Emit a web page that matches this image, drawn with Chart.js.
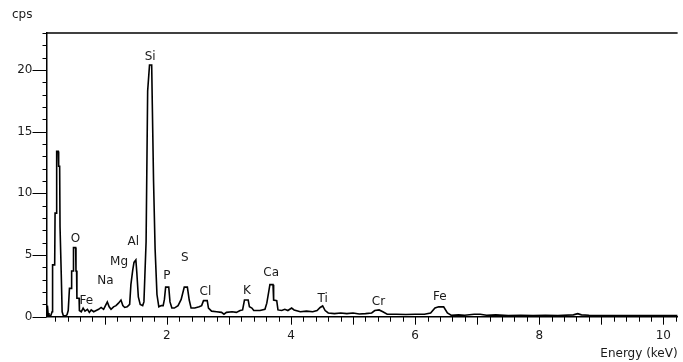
<!DOCTYPE html>
<html lang="en">

<head>
    <meta charset="UTF-8">
    <title>EDS spectrum</title>
    <script src="https://cdn.jsdelivr.net/npm/chart.js"></script>
    <style>
        body {
            margin: 0;
            background-color: #FFFFFF;
        }

        .chart-box {
            width: 683px;
            height: 362px;
        }
    </style>
</head>

<body>
    <div class="chart-box">
        <canvas id="spectrumChart"></canvas>
    </div>

    <script>
        // Spectrum: energy (keV) and counts (cps)
        const energy = [
            0.06, 0.07, 0.075, 0.085, 0.10, 0.13, 0.15, 0.158, 0.192, 0.198,
            0.218, 0.224, 0.250, 0.256, 0.272, 0.278, 0.292, 0.298, 0.305, 0.312,
            0.33, 0.36, 0.39, 0.41, 0.43, 0.46, 0.465, 0.49, 0.495, 0.53,
            0.535, 0.545, 0.55, 0.585, 0.59, 0.62, 0.65, 0.68, 0.72, 0.75,
            0.78, 0.82, 0.86, 0.90, 0.94, 0.98, 1.01, 1.04, 1.07, 1.10,
            1.14, 1.18, 1.22, 1.26, 1.29, 1.32, 1.36, 1.40, 1.42, 1.45,
            1.47, 1.50, 1.515, 1.54, 1.57, 1.61, 1.63, 1.645, 1.665, 1.69,
            1.72, 1.755, 1.765, 1.785, 1.81, 1.84, 1.87, 1.91, 1.94, 1.96,
            1.98, 2.03, 2.05, 2.08, 2.12, 2.18, 2.23, 2.28, 2.33, 2.36,
            2.39, 2.45, 2.52, 2.56, 2.59, 2.65, 2.67, 2.72, 2.80, 2.88,
            2.92, 2.96, 3.05, 3.12, 3.18, 3.22, 3.25, 3.31, 3.33, 3.37,
            3.40, 3.50, 3.58, 3.61, 3.64, 3.66, 3.71, 3.72, 3.77, 3.79,
            3.85, 3.90, 3.95, 4.01, 4.05, 4.15, 4.25, 4.35, 4.42, 4.47,
            4.51, 4.55, 4.60, 4.70, 4.80, 4.90, 5.00, 5.10, 5.20, 5.30,
            5.35, 5.42, 5.48, 5.55, 5.70, 5.85, 6.00, 6.15, 6.25, 6.32,
            6.38, 6.46, 6.52, 6.58, 6.70, 6.80, 6.95, 7.05, 7.15, 7.30,
            7.50, 7.70, 7.90, 8.10, 8.30, 8.55, 8.62, 8.68, 8.80, 9.00,
            9.30, 9.60, 9.90, 10.23
        ];
        const cps = [
            0.1, 0.1, 0.9, 0.3, 0.1, 0.1, 0.4, 4.2, 4.2, 8.4,
            8.4, 13.4, 13.4, 12.2, 12.2, 7.3, 7.3, 3.4, 3.4, 0.4,
            0.1, 0.05, 0.15, 0.5, 2.3, 2.3, 3.7, 3.7, 5.6, 5.6,
            3.7, 3.7, 1.5, 1.5, 0.5, 0.4, 0.7, 0.45, 0.6, 0.35,
            0.55, 0.4, 0.5, 0.6, 0.75, 0.6, 0.9, 1.2, 0.8, 0.6,
            0.8, 0.9, 1.1, 1.35, 0.9, 0.75, 0.8, 1.0, 2.6, 3.8,
            4.4, 4.6, 3.6, 1.6, 1.0, 0.9, 1.2, 3.3, 6.1, 18.3,
            20.4, 20.4, 17.2, 11.0, 5.5, 1.8, 0.8, 0.9, 0.9, 1.4,
            2.4, 2.4, 1.2, 0.7, 0.7, 0.9, 1.4, 2.4, 2.4, 1.35,
            0.7, 0.7, 0.8, 0.9, 1.3, 1.3, 0.7, 0.45, 0.4, 0.35,
            0.2, 0.35, 0.4, 0.35, 0.5, 0.55, 1.35, 1.35, 0.8, 0.7,
            0.5, 0.5, 0.6, 1.1, 2.0, 2.6, 2.6, 1.35, 1.3, 0.55,
            0.5, 0.6, 0.5, 0.7, 0.55, 0.4, 0.45, 0.4, 0.5, 0.75,
            0.87, 0.5, 0.3, 0.25, 0.3, 0.25, 0.3, 0.22, 0.25, 0.3,
            0.5, 0.55, 0.4, 0.2, 0.2, 0.18, 0.2, 0.2, 0.3, 0.7,
            0.8, 0.8, 0.3, 0.12, 0.15, 0.12, 0.2, 0.2, 0.12, 0.15,
            0.1, 0.12, 0.1, 0.12, 0.1, 0.15, 0.25, 0.15, 0.12, 0.1,
            0.1, 0.1, 0.1, 0.1
        ];

        // Element labels and where they sit (keV, cps)
        const peakNames = ['O', 'Fe', 'Na', 'Mg', 'Al', 'Si', 'P', 'S', 'Cl', 'K', 'Ca', 'Ti', 'Cr', 'Fe'];
        const peakLabelKeV = [0.525, 0.70, 1.01, 1.23, 1.46, 1.73, 2.00, 2.29, 2.62, 3.29, 3.68, 4.51, 5.41, 6.40];
        const peakLabelCps = [6.3, 1.28, 2.9, 4.45, 6.07, 21.07, 3.3, 4.8, 2.05, 2.09, 3.55, 1.48, 1.24, 1.64];

        // Axis ticks
        const xTickLabels = [2, 4, 6, 8, 10];
        const yTickLabels = [0, 5, 10, 15, 20];

        const FONT = '"DejaVu Sans", sans-serif';
        const INK = '#1a1a1a';

        // Frame top, minor/major tick marks and text labels
        const spectrumDecor = {
            id: 'spectrumDecor',
            afterDraw(chart) {
                const ctx = chart.ctx;
                const area = chart.chartArea;
                const xs = chart.scales.x;
                const ys = chart.scales.y;
                ctx.save();
                ctx.strokeStyle = '#000';
                ctx.lineWidth = 1.5;
                ctx.beginPath();
                ctx.moveTo(area.left, area.top);
                ctx.lineTo(area.right, area.top);
                ctx.stroke();

                ctx.lineWidth = 1;
                ctx.beginPath();
                for (let i = 0; i <= Math.floor(ys.max); i++) {
                    const py = Math.round(ys.getPixelForValue(i)) + 0.5;
                    const len = i % 5 === 0 ? 14 : 4;
                    ctx.moveTo(area.left - len, py);
                    ctx.lineTo(area.left, py);
                }
                for (let i = 1; i * 0.2 <= xs.max; i++) {
                    const v = i * 0.2;
                    if (v < xs.min) continue;
                    const px = Math.round(xs.getPixelForValue(v)) + 0.5;
                    const len = i % 5 === 0 ? 8 : 5;
                    ctx.moveTo(px, area.bottom);
                    ctx.lineTo(px, area.bottom + len);
                }
                ctx.stroke();

                ctx.fillStyle = INK;
                ctx.font = '12px ' + FONT;
                ctx.textAlign = 'center';
                ctx.textBaseline = 'middle';
                peakNames.forEach((name, i) => {
                    ctx.fillText(name, xs.getPixelForValue(peakLabelKeV[i]), ys.getPixelForValue(peakLabelCps[i]));
                });

                ctx.textBaseline = 'alphabetic';
                ctx.textAlign = 'left';
                ctx.fillText('cps', 12, 17.5);
                ctx.textAlign = 'right';
                ctx.fillText('Energy (keV)', area.right, 356.5);
                ctx.restore();
            }
        };

        const ctx = document.getElementById('spectrumChart').getContext('2d');
        new Chart(ctx, {
            type: 'line',
            data: {
                datasets: [{
                    data: energy.map((e, i) => ({ x: e, y: cps[i] })),
                    borderColor: '#000',
                    borderWidth: 1.6,
                    pointRadius: 0,
                    tension: 0,
                    fill: false
                }]
            },
            options: {
                responsive: true,
                maintainAspectRatio: false,
                animation: false,
                layout: { padding: { top: 33, right: 1, left: 0, bottom: 0 } },
                plugins: {
                    legend: { display: false },
                    tooltip: { enabled: false }
                },
                scales: {
                    x: {
                        type: 'linear',
                        min: 0.06,
                        max: 10.23,
                        grid: { display: false, drawTicks: false },
                        border: { display: true, color: '#000', width: 1.5 },
                        afterBuildTicks: s => { s.ticks = xTickLabels.map(v => ({ value: v })); },
                        afterFit: s => { s.height = 45.3; },
                        ticks: {
                            autoSkip: false,
                            maxRotation: 0,
                            padding: 12,
                            color: INK,
                            font: { family: FONT, size: 12 }
                        }
                    },
                    y: {
                        min: 0,
                        max: 23,
                        grid: { display: false, drawTicks: false },
                        border: { display: true, color: '#000', width: 1.5 },
                        afterBuildTicks: s => { s.ticks = yTickLabels.map(v => ({ value: v })); },
                        afterFit: s => { s.width = 46.5; },
                        ticks: {
                            autoSkip: false,
                            padding: 14,
                            color: INK,
                            font: { family: FONT, size: 12 }
                        }
                    }
                }
            },
            plugins: [spectrumDecor]
        });
    </script>
</body>

</html>
